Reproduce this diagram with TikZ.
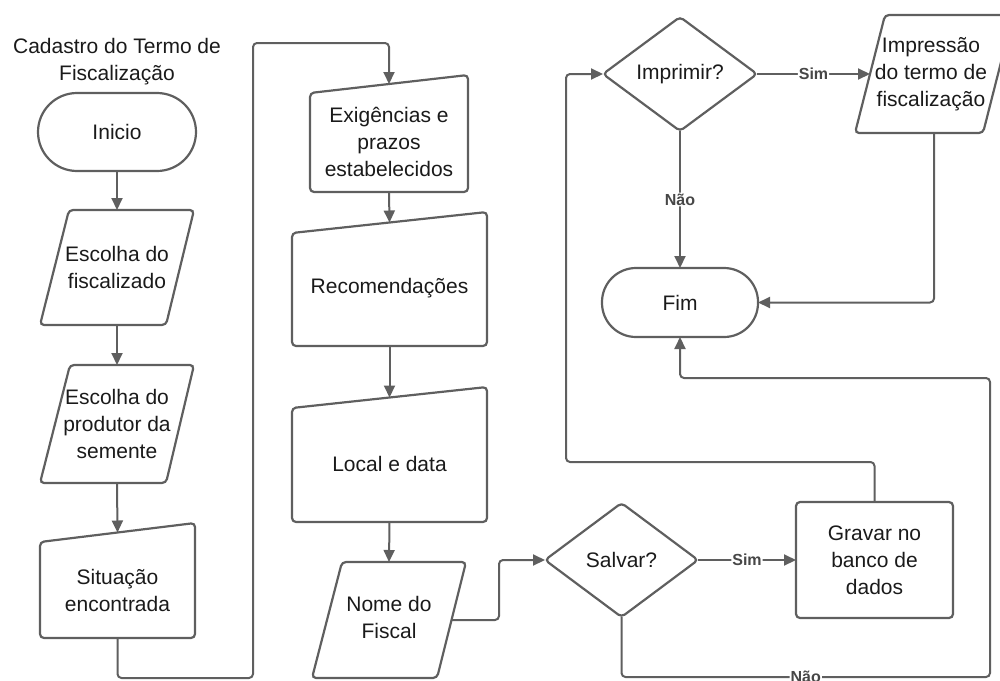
\documentclass[tikz,border=0pt]{standalone}
\usepackage{fontspec}
\setmainfont{Liberation Sans}
\usetikzlibrary{arrows.meta,shapes.geometric,calc}
\definecolor{ln}{HTML}{5F5F5F}
\definecolor{tx}{HTML}{1A1A1A}
\begin{document}
\begin{tikzpicture}[x=1pt,y=-1pt,
  every node/.style={font=\fontsize{21}{27}\selectfont, text=tx, align=center},
  bx/.style={inner sep=0pt, outer sep=0pt},
  frame/.style={draw=ln, line width=2.2pt, rounded corners=4pt},
  conn/.style={draw=ln, line width=2pt, rounded corners=4pt, -{Triangle[length=12pt,width=11pt]}},
  plain/.style={draw=ln, line width=2pt, rounded corners=4pt},
  lbl/.style={font=\bfseries\fontsize{16}{18}\selectfont, text=ln!75!black, fill=white, inner sep=1pt},
]
\useasboundingbox (0,0) rectangle (1000,680);

% title
\node (title) at (117,61.5) {Cadastro do Termo de\\Fiscalização};

% terminals
\node[frame, bx, rounded corners=39pt, minimum width=158pt, minimum height=78pt] (inicio) at (117,132) {Inicio};
\node[frame, bx, rounded corners=34pt, minimum width=156pt, minimum height=69pt] (fim) at (680,302.5) {Fim};

% parallelograms (input)
\node[bx, minimum width=154pt, minimum height=115pt] (fisc) at (117,267.5) {Escolha do\\fiscalizado};
\draw[frame] ([xshift=29pt]fisc.north west) -- (fisc.north east) -- ([xshift=-28pt]fisc.south east) -- (fisc.south west) -- cycle;

\node[bx, minimum width=154pt, minimum height=118pt] (prod) at (117,424) {Escolha do\\produtor da\\semente};
\draw[frame] ([xshift=30pt]prod.north west) -- (prod.north east) -- ([xshift=-28pt]prod.south east) -- (prod.south west) -- cycle;

\node[bx, minimum width=154pt, minimum height=116pt] (nome) at (389,620) {};
\draw[frame] ([xshift=30pt]nome.north west) -- (nome.north east) -- ([xshift=-29pt]nome.south east) -- (nome.south west) -- cycle;
\node (nome-t) at ([yshift=3pt]nome.center) {Nome do\\Fiscal};

\node[bx, minimum width=158pt, minimum height=118pt] (impress) at (934,74) {};
\draw[frame] ([xshift=30pt]impress.north west) -- (impress.north east) -- ([xshift=-30pt]impress.south east) -- (impress.south west) -- cycle;
\node (impress-t) at ([xshift=-3pt]impress.center) {Impressão\\do termo de\\fiscalização};

% manual inputs
\node[bx, minimum width=155pt, minimum height=115pt] (sit) at (117.5,580.5) {};
\draw[frame] ([yshift=-19pt]sit.north west) -- (sit.north east) -- (sit.south east) -- (sit.south west) -- cycle;
\node (sit-t) at ([yshift=-9.5pt]sit.center) {Situação\\encontrada};

\node[bx, minimum width=158pt, minimum height=117pt] (exig) at (389,133.5) {};
\draw[frame] ([yshift=-18pt]exig.north west) -- (exig.north east) -- (exig.south east) -- (exig.south west) -- cycle;
\node (exig-t) at ([yshift=-8pt]exig.center) {Exigências e\\prazos\\estabelecidos};

\node[bx, minimum width=195pt, minimum height=134pt] (reco) at (389.5,279) {};
\draw[frame] ([yshift=-21pt]reco.north west) -- (reco.north east) -- (reco.south east) -- (reco.south west) -- cycle;
\node (reco-t) at ([yshift=-9pt]reco.center) {Recomendações};

\node[bx, minimum width=195pt, minimum height=135pt] (local) at (389.5,454.5) {};
\draw[frame] ([yshift=-21pt]local.north west) -- (local.north east) -- (local.south east) -- (local.south west) -- cycle;
\node (local-t) at ([yshift=-9pt]local.center) {Local e data};

% process
\node[frame, bx, minimum width=157pt, minimum height=116pt] (gravar) at (874.5,560) {Gravar no\\banco de\\dados};

% decisions
\node[frame, bx, diamond, minimum width=153pt, minimum height=114pt] (salvar) at (621.5,560) {Salvar?};
\node[frame, bx, diamond, minimum width=154pt, minimum height=114pt] (impr) at (680,74) {Imprimir?};

% connectors
\draw[conn] (inicio.south) -- (fisc.north);
\draw[conn] (fisc.south) -- (prod.north);
\draw[conn] (prod.south) -- ([yshift=-9.5pt]sit.north);
\draw[conn] (sit.south) -- (117.5,678) -- (253,678) -- (253,43) -- (389,43) -- ([yshift=-9pt]exig.north);
\draw[conn] (exig.south) -- ([yshift=-10.5pt]reco.north);
\draw[conn] (reco.south) -- ([yshift=-10.5pt]local.north);
\draw[conn] (local.south) -- (nome.north);
\draw[conn] ([xshift=-14.5pt]nome.east) -- (499,620) -- (499,560) -- (salvar.west);
\draw[conn] (salvar.east) -- node[lbl] {Sim} (gravar.west);
\draw[conn] (gravar.north) -- (874.5,462) -- (566,462) -- (566,74) -- (impr.west);
\draw[conn] (salvar.south) -- (621.5,677) -- node[lbl] {Não} (990,677) -- (990,378) -- (680,378) -- (fim.south);
\draw[conn] (impr.east) -- node[lbl] {Sim} ([xshift=15pt]impress.west);
\draw[conn] (impr.south) -- node[lbl] {Não} (fim.north);
\draw[conn] (impress.south) -- (934,302.5) -- (fim.east);
\end{tikzpicture}
\end{document}
